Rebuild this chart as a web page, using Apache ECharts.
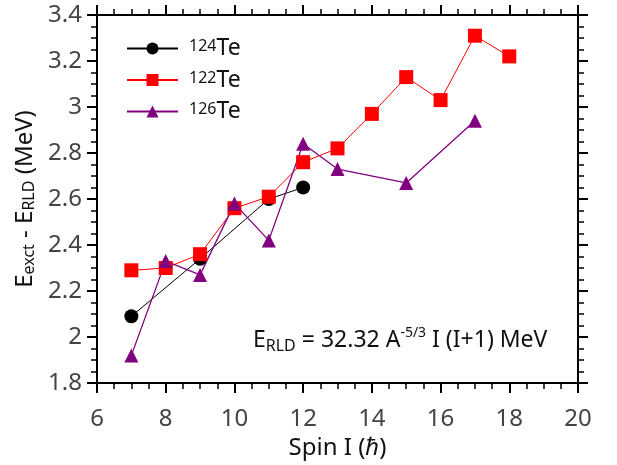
<!DOCTYPE html>
<html><head><meta charset="utf-8">
<script src="https://cdn.jsdelivr.net/npm/echarts@6/dist/echarts.min.js"></script>
<style>html,body{margin:0;padding:0;background:#fff}#c{width:617px;height:465px}</style>
</head><body><div id="c"></div>
<script>
// Data
const seriesNames = ['124Te', '122Te', '126Te'];
const spin124 = [7, 9, 11, 12];
const e124 = [2.09, 2.34, 2.60, 2.65];
const spin122 = [7, 8, 9, 10, 11, 12, 13, 14, 15, 16, 17, 18];
const e122 = [2.29, 2.30, 2.36, 2.56, 2.61, 2.76, 2.82, 2.97, 3.13, 3.03, 3.31, 3.22];
const spin126 = [7, 8, 9, 10, 11, 12, 13, 15, 17];
const e126 = [1.92, 2.33, 2.27, 2.58, 2.42, 2.84, 2.73, 2.67, 2.94];
const xRange = [6, 20, 2];
const yRange = [1.8, 3.4, 0.2];

const FONT = '"Noto Sans", "DejaVu Sans", sans-serif';
const zip = (xs, ys) => xs.map((x, i) => [x, ys[i]]);

const chart = echarts.init(document.getElementById('c'), null, {renderer: 'canvas'});

function axisCommon(showLabel) {
  return {
    axisLine: {show: true, onZero: false, lineStyle: {color: '#000', width: 2}},
    axisTick: {show: true, inside: false, length: 10, lineStyle: {color: '#000', width: 2}},
    minorTick: {show: true, splitNumber: 4, length: 6, lineStyle: {color: '#000', width: 1.5}},
    splitLine: {show: false},
    minorSplitLine: {show: false},
    axisLabel: {show: showLabel, color: '#444', fontSize: 24, fontFamily: FONT,
      formatter: v => String(Math.round(v * 100) / 100)}
  };
}

const option = {
  animation: false,
  backgroundColor: '#fff',
  grid: {left: 97, right: 39, top: 15, bottom: 82, containLabel: false},
  xAxis: [
    Object.assign(axisCommon(true), {
      type: 'value', position: 'bottom', min: xRange[0], max: xRange[1], interval: xRange[2],
      name: '{n|Spin I (}{it|ℏ}{n|)}', nameLocation: 'middle', nameGap: 52,
      nameTextStyle: {rich: {
        n: {fontSize: 24, fontFamily: FONT, color: '#111'},
        it: {fontSize: 24, fontFamily: FONT, fontStyle: 'italic', color: '#111'}
      }},
      axisLabel: Object.assign(axisCommon(true).axisLabel, {margin: 24})
    }),
    Object.assign(axisCommon(false), {
      type: 'value', position: 'top', min: xRange[0], max: xRange[1], interval: xRange[2]
    })
  ],
  yAxis: [
    Object.assign(axisCommon(true), {
      type: 'value', position: 'left', min: yRange[0], max: yRange[1], interval: yRange[2],
      name: '{n|E}{s|exct}{n| - E}{s|RLD}{n| (MeV)}', nameLocation: 'middle', nameGap: 57,
      nameRotate: 90,
      nameTextStyle: {rich: {
        n: {fontSize: 24, fontFamily: FONT, color: '#111', lineHeight: 30, verticalAlign: 'bottom'},
        s: {fontSize: 16, fontFamily: FONT, color: '#111', lineHeight: 17, verticalAlign: 'bottom'}
      }},
      axisLabel: Object.assign(axisCommon(true).axisLabel, {margin: 15})
    }),
    Object.assign(axisCommon(false), {
      type: 'value', position: 'right', min: yRange[0], max: yRange[1], interval: yRange[2]
    })
  ],
  legend: {
    orient: 'vertical', left: 126, top: 37, itemGap: 8.5, padding: 0,
    itemWidth: 51, itemHeight: 15,
    data: seriesNames,
    formatter: name => '{sup|' + name.slice(0, 3) + '}{main|' + name.slice(3) + '}',
    textStyle: {
      padding: [0, 0, 0, 6],
      rich: {
        sup: {fontSize: 16, fontFamily: FONT, color: '#111', verticalAlign: 'top', lineHeight: 14},
        main: {fontSize: 23, fontFamily: FONT, color: '#111', lineHeight: 20}
      }
    }
  },
  graphic: [{
    type: 'text', left: 253, top: 326,
    style: {
      text: '{n|E}{s|RLD}{n| = 32.32 A}{p|-5/3}{n| I (I+1) MeV}',
      rich: {
        n: {fontSize: 23, fontFamily: FONT, fill: '#111', lineHeight: 28},
        s: {fontSize: 16, fontFamily: FONT, fill: '#111', lineHeight: 17, verticalAlign: 'bottom'},
        p: {fontSize: 14, fontFamily: FONT, fill: '#111', lineHeight: 17, verticalAlign: 'top'}
      }
    }
  }],
  series: [
    {name: seriesNames[0], type: 'line', data: zip(spin124, e124), symbol: 'circle', symbolSize: 14,
      itemStyle: {color: '#000'}, lineStyle: {color: '#000', width: 1}},
    {name: seriesNames[1], type: 'line', data: zip(spin122, e122), symbol: 'rect', symbolSize: 14,
      itemStyle: {color: '#ff0000'}, lineStyle: {color: '#ff0000', width: 1}},
    {name: seriesNames[2], type: 'line', data: zip(spin126, e126), symbol: 'triangle', symbolSize: 14,
      itemStyle: {color: '#800080'}, lineStyle: {color: '#800080', width: 1.3}}
  ]
};
chart.setOption(option);
</script>
</body></html>
